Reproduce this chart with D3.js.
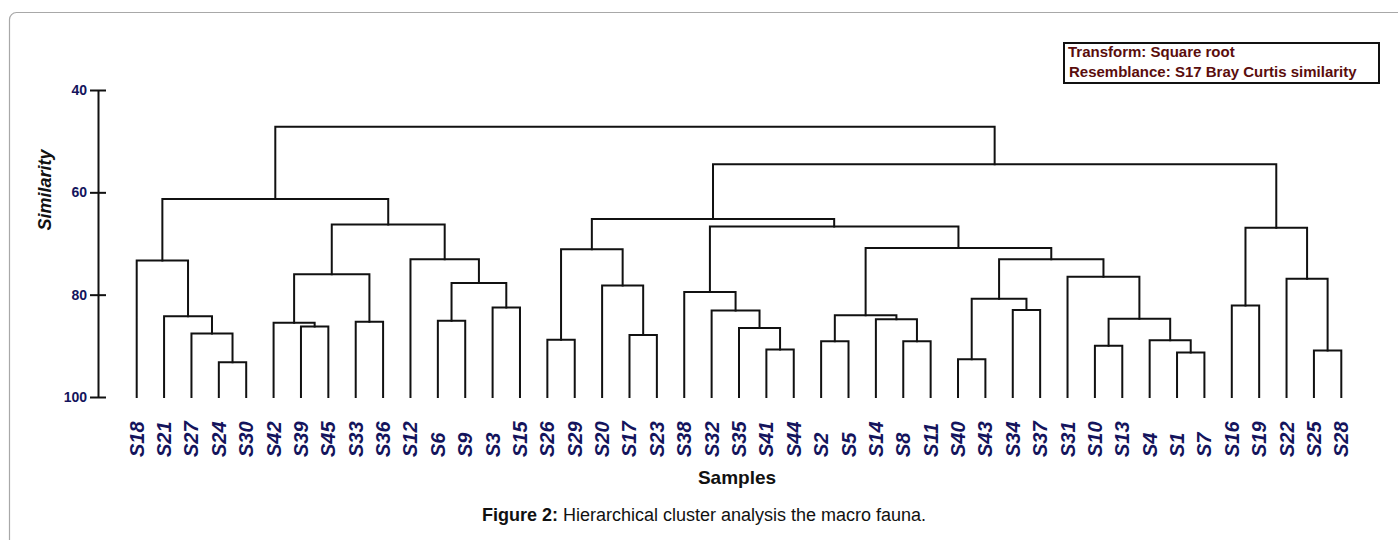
<!DOCTYPE html>
<html>
<head>
<meta charset="utf-8">
<script src="https://cdn.jsdelivr.net/npm/d3@7/dist/d3.min.js"></script>
<style>
  html, body { margin: 0; padding: 0; background: #fff; }
  svg { display: block; font-family: Arial, "Liberation Sans", sans-serif; }
</style>
</head>
<body>
<svg id="chart" width="1398" height="540"></svg>
<script>
// Leaf order along the x axis
const leaves = ["S18","S21","S27","S24","S30","S42","S39","S45","S33","S36","S12","S6","S9","S3","S15",
  "S26","S29","S20","S17","S23","S38","S32","S35","S41","S44","S2","S5","S14","S8","S11",
  "S40","S43","S34","S37","S31","S10","S13","S4","S1","S7","S16","S19","S22","S25","S28"];

// Merge ids, their two children and the similarity level of each merge
const mergeIds   = ["m1","m2","m3","m4","m5","m6","m7","m8","m9","m10","m11","m12","m13","m14",
  "m15","m16","m17","m18","m19","m20","m21","m22","m23","m24","m25","m26","m27","m28","m29",
  "m30","m31","m32","m33","m34","m35","m36","m37","m38","m39","m40","m41","m42","m43","m44"];
const mergeLeft  = ["S24","S27","S21","S18","S39","S42","S33","m6","S6","S3","m9","S12","m8","m4",
  "S26","S17","S20","m15","S41","S35","S32","S38","S2","S8","S14","m23","S40","S34","m27",
  "S10","S1","S4","m30","S31","m29","m26","m22","m18","S16","S25","S22","m39","m38","m14"];
const mergeRight = ["S30","m1","m2","m3","S45","m5","S36","m7","S9","S15","m10","m11","m12","m13",
  "S29","S23","m16","m17","S44","m19","m20","m21","S5","S11","m24","m25","S43","S37","m28",
  "S13","S7","m31","m32","m33","m34","m35","m36","m37","S19","S28","m40","m41","m42","m43"];
const mergeSim   = [93.2,87.6,84.2,73.3,86.2,85.5,85.3,76.0,85.1,82.5,77.7,73.1,66.3,61.3,
  88.8,87.9,78.2,71.1,90.7,86.5,83.1,79.5,89.1,89.1,84.8,84.0,92.6,83.0,80.8,
  90.0,91.3,88.9,84.7,76.5,73.1,70.9,66.7,65.2,82.1,90.9,76.9,66.9,54.5,47.2];

const yTicks = [40, 60, 80, 100];
const legendLines = ["Transform: Square root", "Resemblance: S17 Bray Curtis similarity"];
const yTitle = "Similarity";
const xTitle = "Samples";
const captionBold = "Figure 2:";
const captionText = " Hierarchical cluster analysis the macro fauna.";

const svg = d3.select("#chart");
const navy = "#14145c";
const maroon = "#5a0d0d";

// frame
svg.append("rect")
  .attr("x", 9.5).attr("y", 12.5).attr("width", 1420).attr("height", 560)
  .attr("rx", 7).attr("fill", "none").attr("stroke", "#a8a8a8").attr("stroke-width", 1.2);

const x = d3.scalePoint().domain(leaves).range([136.7, 1341.3]);
const y = d3.scaleLinear().domain([40, 100]).range([90, 397]);

// axis
const axisG = svg.append("g").attr("transform", "translate(98,0)");
axisG.call(d3.axisLeft(y).tickValues(yTicks).tickSize(0).tickPadding(11));
axisG.select(".domain").attr("stroke", "#111").attr("stroke-width", 2);
axisG.selectAll(".tick text")
  .attr("fill", navy).attr("font-size", 14).attr("font-weight", "bold")
  .attr("font-family", "Arial, 'Liberation Sans', sans-serif");
axisG.selectAll(".tick").append("line")
  .attr("x1", -8).attr("x2", 8).attr("stroke", "#111").attr("stroke-width", 2);

// build nodes
const nodes = {};
leaves.forEach(l => nodes[l] = { x: x(l), sim: 100 });
mergeIds.forEach((id, i) => {
  const a = nodes[mergeLeft[i]], b = nodes[mergeRight[i]];
  nodes[id] = { x: (a.x + b.x) / 2, sim: mergeSim[i], a, b };
});

const links = mergeIds.map(id => nodes[id]);
svg.append("g")
  .selectAll("path").data(links).join("path")
  .attr("d", n => `M${n.a.x},${y(n.a.sim)}V${y(n.sim)}H${n.b.x}V${y(n.b.sim)}`)
  .attr("fill", "none").attr("stroke", "#111").attr("stroke-width", 2)
  .attr("stroke-linecap", "square");

// leaf labels
svg.append("g")
  .selectAll("text").data(leaves).join("text")
  .attr("transform", d => `translate(${x(d) + 7},457) rotate(-90)`)
  .attr("text-anchor", "start")
  .attr("font-size", 20).attr("font-weight", "bold").attr("font-style", "italic")
  .attr("fill", navy)
  .text(d => d);

// axis titles
svg.append("text")
  .attr("transform", "translate(51,190) rotate(-90)")
  .attr("text-anchor", "middle")
  .attr("font-size", 18).attr("font-weight", "bold").attr("font-style", "italic")
  .attr("fill", "#111")
  .text(yTitle);

svg.append("text")
  .attr("x", 737).attr("y", 484)
  .attr("text-anchor", "middle")
  .attr("font-size", 19).attr("font-weight", "bold").attr("fill", "#111")
  .text(xTitle);

const cap = svg.append("text")
  .attr("x", 704).attr("y", 521)
  .attr("text-anchor", "middle")
  .attr("font-size", 18).attr("fill", "#111");
cap.append("tspan").attr("font-weight", "bold").text(captionBold);
cap.append("tspan").text(captionText);

// legend box
svg.append("rect")
  .attr("x", 1064).attr("y", 43).attr("width", 315).attr("height", 40)
  .attr("fill", "#fff").attr("stroke", "#111").attr("stroke-width", 2);
svg.append("g").selectAll("text").data(legendLines).join("text")
  .attr("x", (d, i) => i === 0 ? 1068 : 1069)
  .attr("y", (d, i) => 57 + i * 20)
  .attr("font-size", 15).attr("font-weight", "bold").attr("fill", maroon)
  .text(d => d);
</script>
</body>
</html>
